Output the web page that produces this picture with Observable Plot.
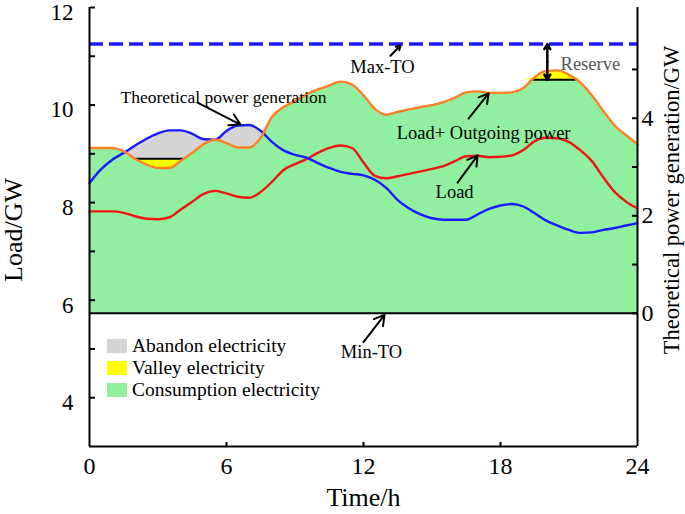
<!DOCTYPE html>
<html>
<head>
<meta charset="utf-8">
<script src="https://cdn.jsdelivr.net/npm/d3@7"></script>
<script src="https://cdn.jsdelivr.net/npm/@observablehq/plot@0.6"></script>
<style>
  html, body { margin: 0; padding: 0; background: #fff; }
  #wrap { position: relative; width: 685px; height: 514px; font-family: "Liberation Serif", "Times New Roman", serif; }
  #legend { position: absolute; left: 107px; top: 335px; font-size: 19.5px; color: #000; }
  .row { display: flex; align-items: center; height: 22px; }
  .sw { width: 20px; height: 14px; margin-right: 5px; }
</style>
</head>
<body>
<div id="wrap"></div>
<script>
// ---- data ----
const hours = [0,0.5,1,1.5,2,2.5,3,3.5,4,4.5,5,5.5,6,6.5,7,7.5,8,8.5,9,9.5,10,10.5,11,11.5,12,
  12.5,13,13.5,14,14.5,15,15.5,16,16.5,17,17.5,18,18.5,19,19.5,20,20.5,21,21.5,22,22.5,23,23.5,24];
// Load + outgoing power (GW, left axis)
const loadOut = [9.12,9.12,9.12,9.05,8.90,8.78,8.71,8.71,8.86,9.02,9.20,9.29,9.22,9.13,9.13,9.33,9.76,9.96,10.08,10.22,10.32,10.40,10.48,10.42,10.20,
  9.92,9.80,9.86,9.91,9.96,10.00,10.06,10.15,10.26,10.28,10.25,10.25,10.26,10.35,10.57,10.70,10.71,10.62,10.46,10.20,9.88,9.58,9.38,9.20];
// Load (GW, left axis)
const load = [7.82,7.82,7.82,7.79,7.72,7.67,7.66,7.70,7.86,8.02,8.18,8.24,8.19,8.12,8.10,8.22,8.43,8.67,8.79,8.89,9.02,9.12,9.17,9.12,8.82,
  8.55,8.50,8.54,8.59,8.64,8.69,8.75,8.85,8.95,8.96,8.93,8.94,8.97,9.08,9.26,9.33,9.32,9.24,9.07,8.85,8.52,8.22,8.02,7.88];
// Theoretical power generation (GW, right axis)
const theo = [2.67,2.95,3.15,3.29,3.44,3.58,3.69,3.75,3.75,3.68,3.57,3.56,3.74,3.85,3.86,3.74,3.51,3.34,3.25,3.19,3.08,2.98,2.90,2.86,2.83,
  2.74,2.57,2.32,2.15,2.03,1.95,1.92,1.92,1.92,2.03,2.14,2.21,2.24,2.19,2.05,1.90,1.80,1.71,1.65,1.66,1.71,1.75,1.80,1.85];

const minTO = 5.73;   // Min-TO level (left axis), = 0 on right axis
const maxTO = 11.25;  // Max-TO level (left axis)
const valleyLevels = [{t1: 1.98, t2: 4.12, v: 8.90, lo: 1.5, hi: 4.5}, {t1: 19.39, t2: 21.31, v: 10.52, lo: 19, hi: 21.5}];
const reserve = {t: 20.05, top: 11.25, bottom: 10.52, labelT: 20.63, labelV: 10.85};

const leftTicks = [4,5,6,7,8,9,10,11,12];
const leftLabels = [4,6,8,10,12];
const rightTicks = [0,1,2,3,4,5];
const rightLabels = [0,2,4];
const xTicks = [6,12,18];
const xLabels = [0,6,12,18,24];

const notes = [
  {text: "Theoretical power generation", t: 5.87, v: 10.15, size: 17.5},
  {text: "Max-TO", t: 12.83, v: 10.77, size: 18.5},
  {text: "Load+ Outgoing power", t: 17.26, v: 9.42, size: 18.5},
  {text: "Load", t: 15.99, v: 8.21, size: 18.5},
  {text: "Min-TO", t: 12.35, v: 4.94, size: 18.5}
];
const arrows = [
  {t1: 4.73, v1: 10.05, t2: 6.61, v2: 9.60},
  {t1: 13.18, v1: 11.01, t2: 13.62, v2: 11.22},
  {t1: 16.60, v1: 9.72, t2: 17.48, v2: 10.24},
  {t1: 16.12, v1: 8.41, t2: 17.00, v2: 8.97},
  {t1: 12.00, v1: 5.14, t2: 12.92, v2: 5.70}
];

const legendItems = [
  {label: "Abandon electricity", color: "#d4d4d4"},
  {label: "Valley electricity", color: "#ffff00"},
  {label: "Consumption electricity", color: "#90f0a0"}
];

// ---- build ----
const rows = hours.map((t, i) => ({t, out: loadOut[i], load: load[i], theo: theo[i] + minTO}));
const font = "Liberation Serif";
const GREEN = "#90f0a0", GREY = "#d4d4d4", YELLOW = "#ffff00";
const ORANGE = "#ff7f27", RED = "#f01414", BLUE = "#1a1aff";
const curve = "monotone-x";

const v1 = valleyLevels[0], v2 = valleyLevels[1];
const midRes = (reserve.top + reserve.bottom) / 2;

const chart = Plot.plot({
  width: 685, height: 514,
  marginLeft: 89, marginRight: 48, marginTop: 7, marginBottom: 68,
  style: {fontFamily: font, background: "transparent"},
  x: {domain: [0, 24]},
  y: {domain: [3, 12]},
  marks: [
    // consumption area
    Plot.areaY(rows, {x: "t", y1: () => minTO, y2: "out", fill: GREEN, curve}),
    // abandon area
    Plot.areaY(rows, {x: "t", y1: "out", y2: d => Math.max(d.theo, d.out), fill: GREY, curve}),
    // valley areas
    Plot.areaY(rows.filter(d => d.t >= v1.lo && d.t <= v1.hi), {x: "t", y1: d => Math.min(d.out, v1.v), y2: () => v1.v, fill: YELLOW, curve}),
    Plot.areaY(rows.filter(d => d.t >= v2.lo && d.t <= v2.hi), {x: "t", y1: () => v2.v, y2: d => Math.max(d.out, v2.v), fill: YELLOW, curve}),
    Plot.ruleY(valleyLevels, {y: "v", x1: "t1", x2: "t2", stroke: "#000", strokeWidth: 2}),
    // Min-TO, Max-TO
    Plot.ruleY([minTO], {stroke: "#000", strokeWidth: 2}),
    Plot.ruleY([maxTO], {stroke: BLUE, strokeWidth: 3.5, strokeDasharray: "14,6"}),
    // lines
    Plot.line(rows, {x: "t", y: "load", stroke: RED, strokeWidth: 2.4, curve}),
    Plot.line(rows, {x: "t", y: "theo", stroke: BLUE, strokeWidth: 2.4, curve}),
    Plot.line(rows, {x: "t", y: "out", stroke: ORANGE, strokeWidth: 2.4, curve}),
    // annotations
    Plot.arrow(arrows, {x1: "t1", y1: "v1", x2: "t2", y2: "v2", stroke: "#000", strokeWidth: 2, headLength: 9}),
    Plot.arrow([reserve], {x1: "t", x2: "t", y1: () => midRes, y2: "top", stroke: "#000", strokeWidth: 2.5, headLength: 11}),
    Plot.arrow([reserve], {x1: "t", x2: "t", y1: () => midRes, y2: "bottom", stroke: "#000", strokeWidth: 2.5, headLength: 11}),
    Plot.text(notes, {x: "t", y: "v", text: "text", fontSize: d => d.size, fill: "#000", textAnchor: "middle"}),
    Plot.text([reserve], {x: "labelT", y: "labelV", text: () => "Reserve", fontSize: 18.5, fill: "#555", textAnchor: "start"}),
    // frame lines
    Plot.ruleX([0, 24], {stroke: "#000", strokeWidth: 2}),
    Plot.ruleY([3], {stroke: "#000", strokeWidth: 2}),
    // axes: inward ticks (tick shape of the opposite side, placed on this side)
    Plot.axisY(leftTicks, {anchor: "right", frameAnchor: "left", tickSize: 5, tickFormat: () => "", strokeWidth: 2, label: null}),
    Plot.axisY(leftLabels, {anchor: "left", tickSize: 0, tickPadding: 16, dy: 5, fontSize: 23, fill: "#000", label: null}),
    Plot.axisY(rightTicks.map(d => d + minTO), {anchor: "left", frameAnchor: "right", tickSize: 5, tickFormat: () => "", strokeWidth: 2, label: null}),
    Plot.axisY(rightLabels.map(d => d + minTO), {anchor: "right", tickSize: 0, tickPadding: 4, fontSize: 24, fill: "#000", tickFormat: d => String(Math.round(d - minTO)), label: null}),
    Plot.axisX(xTicks, {anchor: "top", frameAnchor: "bottom", tickSize: 5, tickFormat: () => "", strokeWidth: 2, label: null}),
    Plot.axisX(xLabels, {anchor: "bottom", tickSize: 0, tickPadding: 10, fontSize: 24, fill: "#000", label: null}),
    // axis titles
    Plot.text(["Time/h"], {frameAnchor: "bottom", dy: 51, fontSize: 26, fill: "#000", textAnchor: "middle", lineAnchor: "middle"}),
    Plot.text(["Load/GW"], {frameAnchor: "left", dx: -76, dy: 3, rotate: -90, fontSize: 26, fill: "#000", textAnchor: "middle", lineAnchor: "middle"}),
    Plot.text(["Theoretical power generation/GW"], {frameAnchor: "right", dx: 34, dy: -27, rotate: -90, fontSize: 22.5, fill: "#000", textAnchor: "middle", lineAnchor: "middle"})
  ]
});

const wrap = document.getElementById("wrap");
chart.style.position = "absolute";
chart.style.left = "0";
chart.style.top = "0";
wrap.appendChild(chart);
const legend = document.createElement("div");
legend.id = "legend";
for (const item of legendItems) {
  const row = document.createElement("div");
  row.className = "row";
  const sw = document.createElement("div");
  sw.className = "sw";
  sw.style.background = item.color;
  const lab = document.createElement("span");
  lab.textContent = item.label;
  row.appendChild(sw);
  row.appendChild(lab);
  legend.appendChild(row);
}
wrap.appendChild(legend);
</script>
</body>
</html>
